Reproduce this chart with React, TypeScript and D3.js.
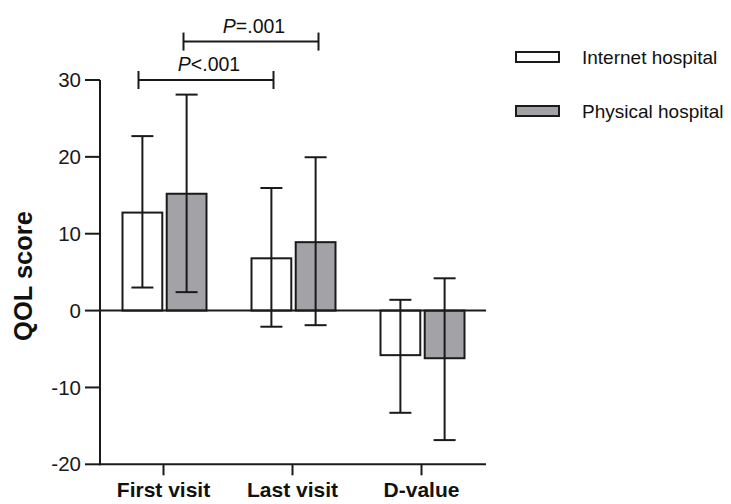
import React from 'react';
import * as d3 from 'd3';

const categories = ['First visit', 'Last visit', 'D-value'];
const series = ['Internet hospital', 'Physical hospital'];
const colors = ['#ffffff', '#a3a2a7'];
// mean values, per series, per category
const internetMean = [12.75, 6.8, -5.8];
const physicalMean = [15.2, 8.9, -6.2];
const internetLow = [3.0, -2.1, -13.3];
const internetHigh = [22.7, 15.95, 1.4];
const physicalLow = [2.4, -1.9, -16.85];
const physicalHigh = [28.1, 19.95, 4.2];
const yTicks = [-20, -10, 0, 10, 20, 30];

const W = 731;
const H = 504;
const font = '"Liberation Sans", Arial, Helvetica, sans-serif';

const App = () => {
    const y = d3.scaleLinear().domain([-20, 30]).range([464.3, 80]);
    const x = d3.scaleBand().domain(categories).range([99, 486]).padding(0);
    const xSub = d3.scaleBand().domain(series).range([-41, 43]).paddingInner(0.1);

    const rows = categories.flatMap((c, i) => [
        { cat: c, s: series[0], mean: internetMean[i], lo: internetLow[i], hi: internetHigh[i], fill: colors[0] },
        { cat: c, s: series[1], mean: physicalMean[i], lo: physicalLow[i], hi: physicalHigh[i], fill: colors[1] },
    ]);

    const cx = (c) => x(c) + x.bandwidth() / 2;
    const bw = xSub.bandwidth();
    const cap = 11;

    // significance brackets
    const brackets = [
        { x1: cx('First visit') - 25, x2: cx('Last visit') - 19, v: 30, op: '<', p: '.001' },
        { x1: cx('First visit') + 20, x2: cx('Last visit') + 26, v: 35, op: '=', p: '.001' },
    ];

    return (
        <svg width={W} height={H} style={{ position: 'absolute', left: 0, top: 0, background: '#fff' }}
            fontFamily={font}>
            {/* bars */}
            {rows.map((d, i) => {
                const x0 = cx(d.cat) + xSub(d.s);
                return (
                    <rect key={'b' + i} x={x0} width={bw}
                        y={Math.min(y(d.mean), y(0))} height={Math.abs(y(d.mean) - y(0))}
                        fill={d.fill} stroke="#1a1a1a" strokeWidth={2} />
                );
            })}
            {/* error bars */}
            {rows.map((d, i) => {
                const xm = cx(d.cat) + xSub(d.s) + bw / 2;
                return (
                    <g key={'e' + i} stroke="#1a1a1a" strokeWidth={2}>
                        <line x1={xm} x2={xm} y1={y(d.lo)} y2={y(d.hi)} />
                        <line x1={xm - cap} x2={xm + cap} y1={y(d.lo)} y2={y(d.lo)} />
                        <line x1={xm - cap} x2={xm + cap} y1={y(d.hi)} y2={y(d.hi)} />
                    </g>
                );
            })}
            {/* zero line */}
            <line x1={100} x2={486} y1={y(0)} y2={y(0)} stroke="#1a1a1a" strokeWidth={2} />
            {/* y axis */}
            <line x1={100} x2={100} y1={y(30)} y2={y(-20) + 1} stroke="#1a1a1a" strokeWidth={2} />
            {yTicks.map(t => (
                <g key={'t' + t}>
                    <line x1={85} x2={100} y1={y(t)} y2={y(t)} stroke="#1a1a1a" strokeWidth={2} />
                    <text x={81} y={y(t)} dy="0.35em" textAnchor="end" fontSize={20.5} fill="#1a1a1a">{t}</text>
                </g>
            ))}
            {/* x axis */}
            <line x1={99} x2={486} y1={y(-20)} y2={y(-20)} stroke="#1a1a1a" strokeWidth={2} />
            {categories.map(c => (
                <g key={c}>
                    <line x1={cx(c)} x2={cx(c)} y1={y(-20)} y2={y(-20) + 11} stroke="#1a1a1a" strokeWidth={2} />
                    <text x={cx(c)} y={497} textAnchor="middle" fontSize={21} fontWeight="bold" fill="#111">{c}</text>
                </g>
            ))}
            <text transform={`translate(32,276) rotate(-90)`} textAnchor="middle" fontSize={25.5}
                fontWeight="bold" fill="#111">QOL score</text>
            {/* brackets */}
            {brackets.map((b, i) => (
                <g key={'br' + i}>
                    <g stroke="#1a1a1a" strokeWidth={2}>
                        <line x1={b.x1} x2={b.x2} y1={y(b.v)} y2={y(b.v)} />
                        <line x1={b.x1} x2={b.x1} y1={y(b.v) - 9} y2={y(b.v) + 9} />
                        <line x1={b.x2} x2={b.x2} y1={y(b.v) - 9} y2={y(b.v) + 9} />
                    </g>
                    <text x={(b.x1 + b.x2) / 2 + 3} y={y(b.v) - 9} textAnchor="middle" fontSize={19.5} fill="#111">
                        <tspan fontStyle="italic">P</tspan>{b.op + b.p}
                    </text>
                </g>
            ))}
            {/* legend */}
            {series.map((s, i) => (
                <g key={s} transform={`translate(516,${52 + i * 54})`}>
                    <rect x={0} y={0} width={43} height={10} fill={colors[i]} stroke="#1a1a1a" strokeWidth={2} />
                    <text x={66} y={12} fontSize={19} fill="#111">{s}</text>
                </g>
            ))}
        </svg>
    );
};

export default App;
